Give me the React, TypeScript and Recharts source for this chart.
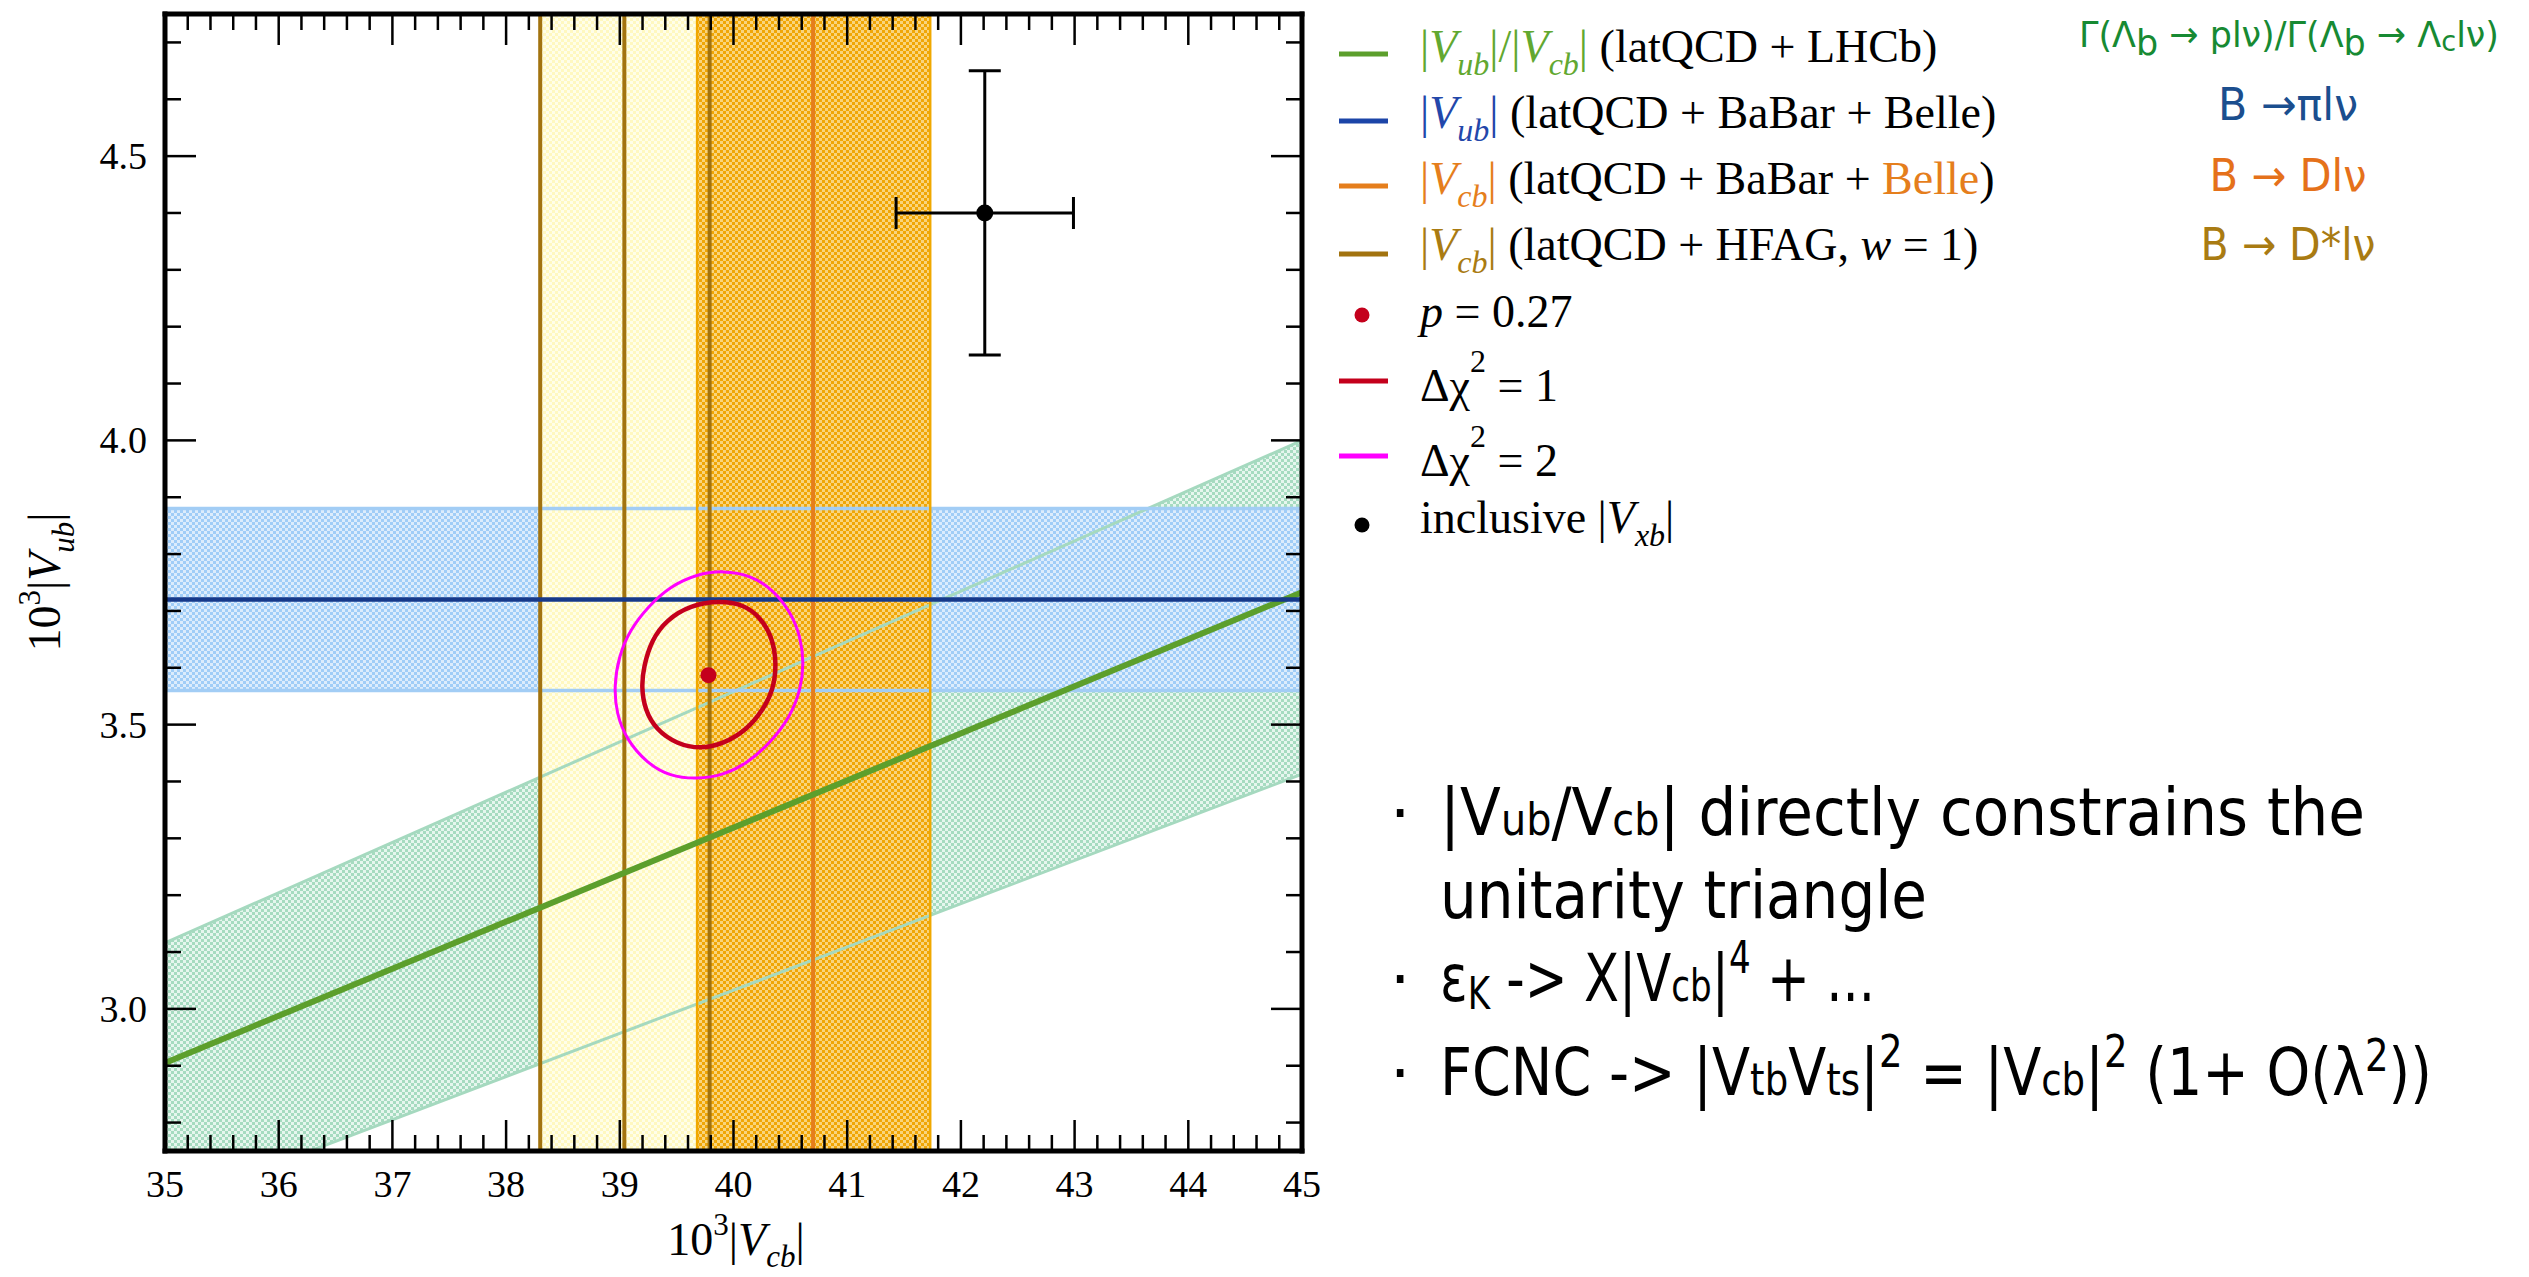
import React from 'react';
import {
  ComposedChart,
  XAxis,
  YAxis,
  Line,
  Area,
  Scatter,
  ErrorBar,
  ReferenceArea,
  ReferenceLine,
} from 'recharts';

// axes: 10^3 |Vcb| horizontally, 10^3 |Vub| vertically
const vcbDomain = [35, 45];
const vubDomain = [2.75, 4.75];
const vcbMajor = [35, 36, 37, 38, 39, 40, 41, 42, 43, 44, 45];
const vubMajor = [3.0, 3.5, 4.0, 4.5];

// |Vub|/|Vcb| (latQCD + LHCb), read at the left and right plot edges
const ratioVcb = [35, 45];
const ratioCentral = [2.905, 3.733];
const ratioUpper = [3.116, 4.0];
const ratioLower = [2.653, 3.413];

// [low, central, high]
const vubPiLnu = [3.56, 3.72, 3.88]; // B -> pi l nu
const vcbDstar = [38.3, 39.04, 39.79]; // B -> D* l nu, HFAG w=1
const vcbD = [39.68, 40.7, 41.73]; // B -> D l nu

const bestFit = [{ x: 39.78, y: 3.587 }];
const inclusive = [{ x: 42.21, y: 4.4, ex: 0.78, ey: 0.25 }];

const chi2One = [
  { x: 39.88, y: 3.718 }, { x: 40.09, y: 3.711 }, { x: 40.23, y: 3.69 },
  { x: 40.34, y: 3.655 }, { x: 40.38, y: 3.608 }, { x: 40.35, y: 3.561 },
  { x: 40.26, y: 3.526 }, { x: 40.12, y: 3.491 }, { x: 39.91, y: 3.466 },
  { x: 39.71, y: 3.457 }, { x: 39.5, y: 3.466 }, { x: 39.32, y: 3.491 },
  { x: 39.22, y: 3.526 }, { x: 39.19, y: 3.567 }, { x: 39.21, y: 3.602 },
  { x: 39.28, y: 3.649 }, { x: 39.41, y: 3.684 }, { x: 39.62, y: 3.71 },
];

const chi2Two = [
  { x: 39.91, y: 3.771 }, { x: 40.15, y: 3.763 }, { x: 40.35, y: 3.737 },
  { x: 40.5, y: 3.699 }, { x: 40.59, y: 3.655 }, { x: 40.62, y: 3.608 },
  { x: 40.59, y: 3.561 }, { x: 40.5, y: 3.514 }, { x: 40.32, y: 3.467 },
  { x: 40.12, y: 3.432 }, { x: 39.91, y: 3.411 }, { x: 39.68, y: 3.404 },
  { x: 39.44, y: 3.409 }, { x: 39.24, y: 3.432 }, { x: 39.06, y: 3.473 },
  { x: 38.97, y: 3.52 }, { x: 38.95, y: 3.567 }, { x: 38.99, y: 3.62 },
  { x: 39.09, y: 3.667 }, { x: 39.25, y: 3.708 }, { x: 39.44, y: 3.743 },
  { x: 39.68, y: 3.765 },
];

// tables for recharts
const ratioBand = ratioVcb.map((x, i) => ({ x, band: [ratioLower[i], ratioUpper[i]] }));
const ratioMid = ratioVcb.map((x, i) => ({ x, y: ratioCentral[i] }));
const ratioHi = ratioVcb.map((x, i) => ({ x, y: ratioUpper[i] }));
const ratioLo = ratioVcb.map((x, i) => ({ x, y: ratioLower[i] }));

// minor ticks between the labelled ones
const r1 = (v: number) => Math.round(v * 10) / 10;
const vcbTicks = Array.from({ length: 51 }, (_, i) => r1(35 + i * 0.2));
const vubTicks = Array.from({ length: 20 }, (_, i) => r1(2.8 + i * 0.1));
const isMajor = (v: number, list: number[]) => list.some((m) => Math.abs(m - v) < 1e-6);

const serif = '"Liberation Serif", "Times New Roman", serif';
const sans = '"DejaVu Sans", "Noto Sans", sans-serif';

const frame = { stroke: '#000', strokeWidth: 5, strokeLinecap: 'square' as const };

const GREEN = '#5c9f2c';
const BLUE = '#16398a';
const ORANGE = '#e57e1c';
const BROWN = '#a2730f';
const RED = '#c4001c';

function BottomTick(p: any) {
  const v = p.payload.value;
  const major = isMajor(v, vcbMajor);
  return (
    <g>
      <line x1={p.x} y1={p.y} x2={p.x} y2={p.y - (major ? 31 : 16)} stroke="#000" strokeWidth={2.5} />
      {major && (
        <text x={p.x} y={p.y + 46} textAnchor="middle" fontFamily={serif} fontSize={38} fill="#000">
          {v}
        </text>
      )}
    </g>
  );
}

function TopTick(p: any) {
  const major = isMajor(p.payload.value, vcbMajor);
  return <line x1={p.x} y1={p.y} x2={p.x} y2={p.y + (major ? 31 : 16)} stroke="#000" strokeWidth={2.5} />;
}

function LeftTick(p: any) {
  const v = p.payload.value;
  const major = isMajor(v, vubMajor);
  return (
    <g>
      <line x1={p.x} y1={p.y} x2={p.x + (major ? 31 : 16)} y2={p.y} stroke="#000" strokeWidth={2.5} />
      {major && (
        <text x={p.x - 18} y={p.y + 13} textAnchor="end" fontFamily={serif} fontSize={38} fill="#000">
          {v.toFixed(1)}
        </text>
      )}
    </g>
  );
}

function RightTick(p: any) {
  const major = isMajor(p.payload.value, vubMajor);
  return <line x1={p.x} y1={p.y} x2={p.x - (major ? 31 : 16)} y2={p.y} stroke="#000" strokeWidth={2.5} />;
}

function Abs({ sub, color, subFs = 32, drop = 13 }: any) {
  return (
    <>
      <tspan fill={color}>|</tspan>
      <tspan fill={color} fontStyle="italic">V</tspan>
      <tspan fill={color} fontStyle="italic" fontSize={subFs} dy={drop}>{sub}</tspan>
      <tspan fill={color} dy={-drop}>|</tspan>
    </>
  );
}

function Checker({ id, dark, light }: { id: string; dark: string; light: string }) {
  return (
    <pattern id={id} width={6} height={6} patternUnits="userSpaceOnUse">
      <rect width={6} height={6} fill={light} />
      <rect width={3} height={3} fill={dark} />
      <rect x={3} y={3} width={3} height={3} fill={dark} />
    </pattern>
  );
}

export default function App() {
  return (
    <div style={{ position: 'fixed', left: 0, top: 0, width: 2529, height: 1277, background: '#fff', overflow: 'hidden' }}>
      <svg width={0} height={0} style={{ position: 'absolute' }}>
        <defs>
          <Checker id="pGreen" dark="#a6dbc0" light="#e6f6ee" />
          <Checker id="pBlue" dark="#a0cdf7" light="#dcecfc" />
          <Checker id="pYellow" dark="#fff8c0" light="#fffee9" />
          <Checker id="pOrange" dark="#f0a606" light="#f9d47c" />
        </defs>
      </svg>

      <div style={{ position: 'absolute', left: 0, top: 0 }}>
        <ComposedChart width={1332} height={1277} margin={{ top: 0, right: 0, bottom: 0, left: 0 }}>
          <Area
            data={ratioBand}
            dataKey="band"
            type="linear"
            stroke="none"
            fill="url(#pGreen)"
            fillOpacity={1}
            isAnimationActive={false}
            activeDot={false}
            zIndex={100}
          />
          <ReferenceArea y1={vubPiLnu[0]} y2={vubPiLnu[2]} fill="url(#pBlue)" fillOpacity={1} stroke="none" zIndex={100} />
          <ReferenceArea x1={vcbDstar[0]} x2={vcbDstar[2]} fill="url(#pYellow)" fillOpacity={1} stroke="none" zIndex={100} />
          <ReferenceArea x1={vcbD[0]} x2={vcbD[2]} fill="url(#pOrange)" fillOpacity={1} stroke="none" zIndex={100} />

          <Line data={ratioHi} dataKey="y" type="linear" stroke="#a5d9bf" strokeWidth={3} dot={false} activeDot={false} isAnimationActive={false} zIndex={400} />
          <Line data={ratioLo} dataKey="y" type="linear" stroke="#a5d9bf" strokeWidth={3} dot={false} activeDot={false} isAnimationActive={false} zIndex={400} />
          <ReferenceLine y={vubPiLnu[0]} stroke="#a2cdf5" strokeWidth={3.5} zIndex={400} />
          <ReferenceLine y={vubPiLnu[2]} stroke="#a2cdf5" strokeWidth={3.5} zIndex={400} />
          <ReferenceLine x={vcbD[0]} stroke="#f0a800" strokeWidth={2.5} zIndex={400} />
          <ReferenceLine x={vcbD[2]} stroke="#f0a800" strokeWidth={2.5} zIndex={400} />
          {vcbDstar.map((v) => (
            <ReferenceLine key={v} x={v} stroke={BROWN} strokeWidth={4} zIndex={400} />
          ))}
          <ReferenceLine x={vcbD[1]} stroke={ORANGE} strokeWidth={4} zIndex={400} />
          <Line data={ratioMid} dataKey="y" type="linear" stroke={GREEN} strokeWidth={6} dot={false} activeDot={false} isAnimationActive={false} zIndex={400} />
          <ReferenceLine y={vubPiLnu[1]} stroke={BLUE} strokeWidth={4.5} zIndex={400} />

          <Line data={chi2Two} dataKey="y" type="basisClosed" stroke="#ff00ff" strokeWidth={3} dot={false} activeDot={false} isAnimationActive={false} zIndex={400} />
          <Line data={chi2One} dataKey="y" type="basisClosed" stroke={RED} strokeWidth={4.5} dot={false} activeDot={false} isAnimationActive={false} zIndex={400} />

          <Scatter
            data={bestFit}
            dataKey="y"
            isAnimationActive={false}
            shape={(p: any) => <circle cx={p.cx} cy={p.cy} r={8} fill={RED} />}
          />
          <Scatter
            data={inclusive}
            dataKey="y"
            isAnimationActive={false}
            shape={(p: any) => <circle cx={p.cx} cy={p.cy} r={8.5} fill="#000" />}
          >
            <ErrorBar dataKey="ex" direction="x" width={16} stroke="#000" strokeWidth={3} />
            <ErrorBar dataKey="ey" direction="y" width={16} stroke="#000" strokeWidth={3} />
          </Scatter>

          <XAxis
            type="number"
            dataKey="x"
            domain={vcbDomain}
            allowDataOverflow
            ticks={vcbTicks}
            interval={0}
            height={126}
            tickLine={false}
            tickSize={0}
            tickMargin={0}
            axisLine={frame}
            tick={BottomTick}
          />
          <XAxis
            xAxisId="top"
            orientation="top"
            type="number"
            dataKey="x"
            domain={vcbDomain}
            allowDataOverflow
            ticks={vcbTicks}
            interval={0}
            height={14}
            tickLine={false}
            tickSize={0}
            tickMargin={0}
            axisLine={frame}
            tick={TopTick}
          />
          <YAxis
            type="number"
            domain={vubDomain}
            allowDataOverflow
            ticks={vubTicks}
            interval={0}
            width={165}
            tickLine={false}
            tickSize={0}
            tickMargin={0}
            axisLine={frame}
            tick={LeftTick}
          />
          <YAxis
            yAxisId="right"
            orientation="right"
            type="number"
            domain={vubDomain}
            allowDataOverflow
            ticks={vubTicks}
            interval={0}
            width={30}
            tickLine={false}
            tickSize={0}
            tickMargin={0}
            axisLine={frame}
            tick={RightTick}
          />
        </ComposedChart>
      </div>

      <svg width={2529} height={1277} style={{ position: 'absolute', left: 0, top: 0, pointerEvents: 'none' }}>
        {/* axis titles */}
        <text x={736} y={1255} textAnchor="middle" fontFamily={serif} fontSize={46} fill="#000">
          10<tspan fontSize={31} dy={-20}>3</tspan>
          <tspan dy={20}>|</tspan>
          <tspan fontStyle="italic">V</tspan>
          <tspan fontStyle="italic" fontSize={31} dy={12}>cb</tspan>
          <tspan dy={-12}>|</tspan>
        </text>
        <text x={60} y={582} transform="rotate(-90 60 582)" textAnchor="middle" fontFamily={serif} fontSize={46} fill="#000">
          10<tspan fontSize={31} dy={-20}>3</tspan>
          <tspan dy={20}>|</tspan>
          <tspan fontStyle="italic">V</tspan>
          <tspan fontStyle="italic" fontSize={31} dy={14}>ub</tspan>
          <tspan dy={-14}>|</tspan>
        </text>

        {/* legend */}
        <g fontFamily={serif} fontSize={46} fill="#000">
          <line x1={1339} y1={54} x2={1388} y2={54} stroke={GREEN} strokeWidth={5} />
          <text x={1420} y={62}>
            <Abs sub="ub" color="#62a830" />
            <tspan fill="#62a830">/</tspan>
            <Abs sub="cb" color="#62a830" />
            <tspan>{' (latQCD + LHCb)'}</tspan>
          </text>

          <line x1={1339} y1={121} x2={1388} y2={121} stroke="#1c45a8" strokeWidth={5} />
          <text x={1420} y={128}>
            <Abs sub="ub" color="#2347aa" />
            <tspan>{' (latQCD + BaBar + Belle)'}</tspan>
          </text>

          <line x1={1339} y1={186} x2={1388} y2={186} stroke={ORANGE} strokeWidth={5} />
          <text x={1420} y={194}>
            <Abs sub="cb" color={ORANGE} />
            <tspan>{' (latQCD + BaBar + '}</tspan>
            <tspan fill={ORANGE}>Belle</tspan>
            <tspan>)</tspan>
          </text>

          <line x1={1339} y1={254} x2={1388} y2={254} stroke={BROWN} strokeWidth={5} />
          <text x={1420} y={260}>
            <Abs sub="cb" color="#a97b12" />
            <tspan>{' (latQCD + HFAG, '}</tspan>
            <tspan fontStyle="italic">w</tspan>
            <tspan>{' = 1)'}</tspan>
          </text>

          <circle cx={1362} cy={315} r={7.5} fill={RED} />
          <text x={1420} y={327}>
            <tspan fontStyle="italic">p</tspan>
            <tspan>{' = 0.27'}</tspan>
          </text>

          <line x1={1339} y1={381} x2={1388} y2={381} stroke={RED} strokeWidth={5} />
          <text x={1420} y={401}>
            Δχ<tspan fontSize={32} dy={-29}>2</tspan>
            <tspan dy={29}>{' = 1'}</tspan>
          </text>

          <line x1={1339} y1={456} x2={1388} y2={456} stroke="#ff00ff" strokeWidth={5} />
          <text x={1420} y={476}>
            Δχ<tspan fontSize={32} dy={-29}>2</tspan>
            <tspan dy={29}>{' = 2'}</tspan>
          </text>

          <circle cx={1362} cy={525} r={7.5} fill="#000" />
          <text x={1420} y={533}>
            <tspan>{'inclusive '}</tspan>
            <Abs sub="xb" color="#000" />
          </text>
        </g>

        {/* decay channels */}
        <g fontFamily={sans} textAnchor="middle">
          <text x={2289} y={47} fontSize={36} fill="#178a33" textLength={420} lengthAdjust="spacingAndGlyphs">
            Γ(Λ<tspan dy={8}>b</tspan>
            <tspan dy={-8}>{' → plν)/Γ(Λ'}</tspan>
            <tspan dy={8}>b</tspan>
            <tspan dy={-8}>{' → Λ'}</tspan>
            <tspan fontSize={28} dy={4}>c</tspan>
            <tspan dy={-4}>lν)</tspan>
          </text>
          <text x={2288} y={120} fontSize={44} fill="#1b4e8e" textLength={140} lengthAdjust="spacingAndGlyphs">
            B →πlν
          </text>
          <text x={2288} y={191} fontSize={44} fill="#e5711a" textLength={157} lengthAdjust="spacingAndGlyphs">
            B → Dlν
          </text>
          <text x={2288} y={260} fontSize={44} fill="#a97b12" textLength={175} lengthAdjust="spacingAndGlyphs">
            B → D*lν
          </text>
        </g>

        {/* remarks */}
        <g fontFamily={sans} fill="#000">
          <text x={1390} y={835} fontSize={64}>·</text>
          <text x={1440} y={835} fontSize={66} textLength={925} lengthAdjust="spacingAndGlyphs">
            |V<tspan fontSize={44}>ub</tspan>/V<tspan fontSize={44}>cb</tspan>| directly constrains the
          </text>
          <text x={1440} y={918} fontSize={66} textLength={487} lengthAdjust="spacingAndGlyphs">
            unitarity triangle
          </text>
          <text x={1390} y={1001} fontSize={64}>·</text>
          <text x={1440} y={1001} fontSize={66} textLength={435} lengthAdjust="spacingAndGlyphs">
            ε<tspan fontSize={44} dy={8}>K</tspan>
            <tspan dy={-8}>{' -> X|V'}</tspan>
            <tspan fontSize={44}>cb</tspan>
            <tspan>|</tspan>
            <tspan fontSize={44} dy={-28}>4</tspan>
            <tspan dy={28}>{' + ...'}</tspan>
          </text>
          <text x={1390} y={1095} fontSize={64}>·</text>
          <text x={1440} y={1095} fontSize={66} textLength={992} lengthAdjust="spacingAndGlyphs">
            FCNC -&gt; |V<tspan fontSize={44}>tb</tspan>
            <tspan>V</tspan>
            <tspan fontSize={44}>ts</tspan>
            <tspan>|</tspan>
            <tspan fontSize={44} dy={-28}>2</tspan>
            <tspan dy={28}>{' = |V'}</tspan>
            <tspan fontSize={44}>cb</tspan>
            <tspan>|</tspan>
            <tspan fontSize={44} dy={-28}>2</tspan>
            <tspan dy={28}>{' (1+  O(λ'}</tspan>
            <tspan fontSize={44} dy={-24}>2</tspan>
            <tspan dy={24}>))</tspan>
          </text>
        </g>
      </svg>
    </div>
  );
}
